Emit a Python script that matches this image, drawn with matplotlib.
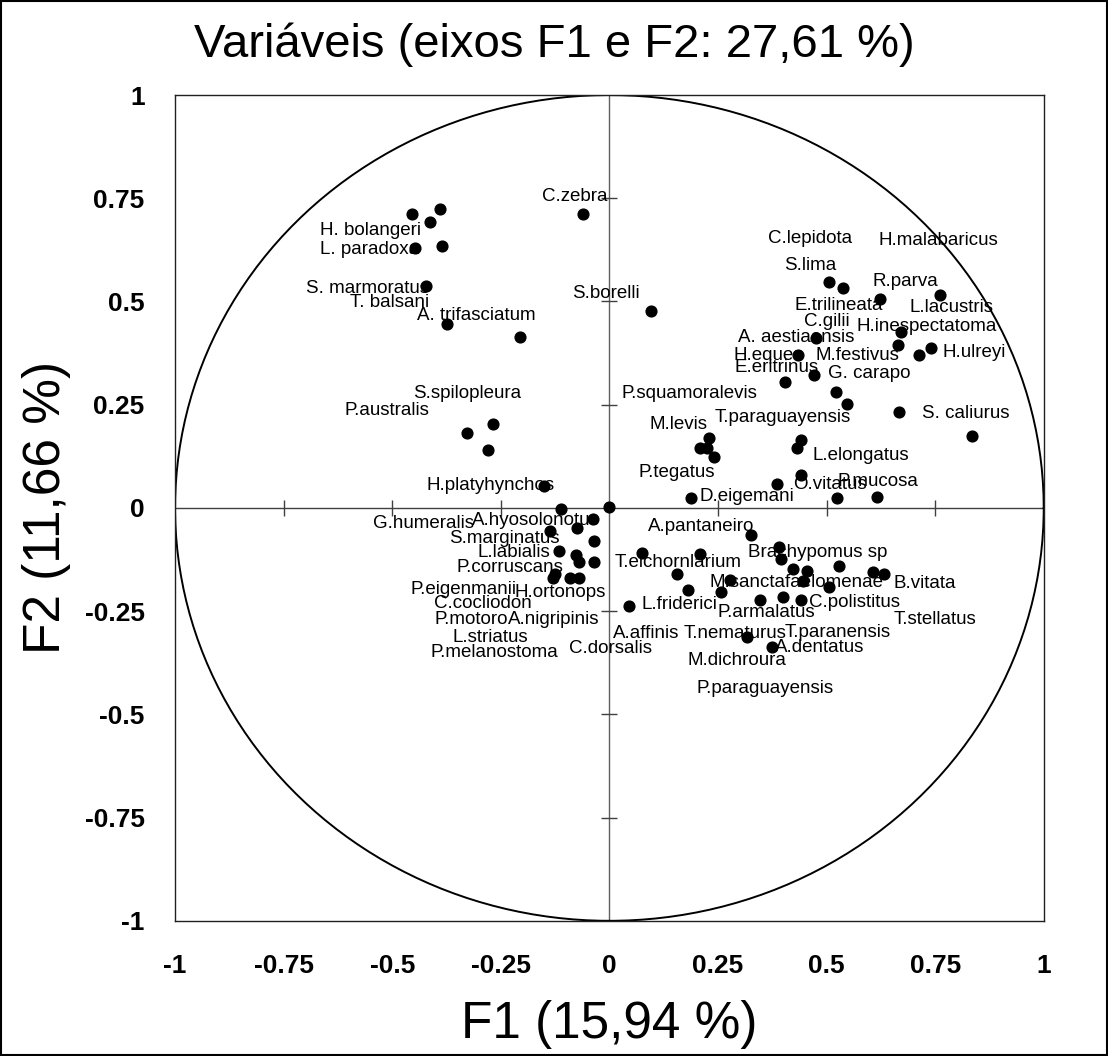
"""Circulo de correlacoes (F1 x F2) das especies."""

import matplotlib
matplotlib.use("Agg")
import matplotlib.pyplot as plt
import numpy as np

plt.rcParams["font.family"] = ["Liberation Sans", "DejaVu Sans"]

# coordenadas das variaveis (F1, F2)
f1 = [-0.454, -0.389, -0.414, -0.448, -0.385, -0.423, -0.375, -0.206, -0.060, 0.095,
      0.506, 0.538, 0.623, 0.761, 0.672, 0.664, 0.740, 0.712, 0.476, 0.435,
      0.472, 0.404, 0.521, 0.546, 0.667, 0.834, -0.328, -0.267, -0.280, -0.151,
      -0.112, -0.137, -0.074, -0.117, -0.077, 0.229, 0.208, 0.224, 0.241, 0.440,
      0.432, 0.440, 0.387, 0.189, 0.525, -0.002, -0.037, -0.035, 0.326, 0.390,
      0.074, 0.208, 0.616, -0.070, -0.036, -0.130, -0.126, -0.091, -0.070, 0.046,
      0.395, 0.156, 0.180, 0.277, 0.257, 0.423, 0.456, 0.445, 0.505, 0.529,
      0.607, 0.632, 0.346, 0.399, 0.440, 0.317, 0.375]
f2 = [0.713, 0.725, 0.692, 0.630, 0.635, 0.538, 0.446, 0.413, 0.712, 0.477,
      0.546, 0.532, 0.507, 0.516, 0.425, 0.395, 0.388, 0.370, 0.412, 0.370,
      0.323, 0.306, 0.280, 0.251, 0.233, 0.174, 0.182, 0.204, 0.140, 0.054,
      -0.002, -0.057, -0.049, -0.104, -0.114, 0.169, 0.144, 0.144, 0.123, 0.165,
      0.144, 0.080, 0.058, 0.025, 0.025, 0.003, -0.027, -0.079, -0.065, -0.094,
      -0.108, -0.111, 0.027, -0.131, -0.130, -0.170, -0.160, -0.169, -0.169, -0.237,
      -0.123, -0.161, -0.199, -0.174, -0.204, -0.148, -0.152, -0.177, -0.192, -0.140,
      -0.156, -0.160, -0.224, -0.216, -0.224, -0.313, -0.336]

# rotulos exibidos
names = ["H. bolangeri", "L. paradoxa", "S. marmoratus", "T. balsani", "A. trifasciatum",
         "C.zebra", "S.borelli", "C.lepidota", "H.malabaricus", "S.lima", "R.parva",
         "E.trilineata", "L.lacustris", "C.gilii", "H.inespectatoma", "A. aestiaensis",
         "H.eques", "M.festivus", "H.ulreyi", "E.eritrinus", "G. carapo", "S. caliurus",
         "P.squamoralevis", "T.paraguayensis", "M.levis", "L.elongatus", "P.tegatus",
         "O.vitatus", "D.eigemani", "P.mucosa", "A.pantaneiro", "Brachypomus sp",
         "T.eichornlarium", "M.sanctafaelomenae", "B.vitata", "L.friderici",
         "C.polistitus", "P.armalatus", "T.stellatus", "A.affinis", "T.nematurus",
         "T.paranensis", "A.dentatus", "M.dichroura", "P.paraguayensis",
         "S.spilopleura", "P.australis", "H.platyhynchos", "G.humeralis",
         "A.hyosolonotus", "S.marginatus", "L.labialis", "P.corruscans", "P.eigenmanii",
         "H.ortonops", "C.cocliodon", "P.motoro", "A.nigripinis", "L.striatus",
         "P.melanostoma", "C.dorsalis"]

# posicao dos rotulos (canto esquerdo, linha de base)
label_pos = [(-0.666, 0.661), (-0.666, 0.615), (-0.698, 0.521), (-0.597, 0.487), (-0.444, 0.454),
             (-0.155, 0.743), (-0.086, 0.509), (0.365, 0.642), (0.619, 0.637), (0.402, 0.576),
             (0.606, 0.538), (0.427, 0.479), (0.692, 0.475), (0.448, 0.441), (0.569, 0.429),
             (0.296, 0.403), (0.285, 0.358), (0.475, 0.358), (0.768, 0.365), (0.288, 0.330),
             (0.504, 0.314), (0.719, 0.219), (0.029, 0.266), (0.243, 0.208), (0.093, 0.191),
             (0.468, 0.116), (0.066, 0.074), (0.423, 0.045), (0.208, 0.018), (0.526, 0.053),
             (0.089, -0.057), (0.319, -0.119), (0.013, -0.142), (0.231, -0.192), (0.653, -0.194),
             (0.074, -0.245), (0.460, -0.241), (0.249, -0.263), (0.655, -0.282), (0.009, -0.316),
             (0.171, -0.316), (0.404, -0.312), (0.381, -0.348), (0.179, -0.380), (0.201, -0.449),
             (-0.452, 0.266), (-0.609, 0.225), (-0.422, 0.044), (-0.544, -0.049),
             (-0.317, -0.041), (-0.369, -0.085), (-0.303, -0.119), (-0.353, -0.154), (-0.458, -0.208),
             (-0.219, -0.215), (-0.403, -0.243), (-0.403, -0.281), (-0.233, -0.281), (-0.361, -0.324),
             (-0.413, -0.360), (-0.093, -0.352)]

ticks = [-1, -0.75, -0.5, -0.25, 0, 0.25, 0.5, 0.75, 1]
tick_labels = ["-1", "-0.75", "-0.5", "-0.25", "0", "0.25", "0.5", "0.75", "1"]
inner_ticks = [-0.75, -0.5, -0.25, 0.25, 0.5, 0.75]

fig = plt.figure(figsize=(11.08, 10.56), dpi=100)
ax = fig.add_axes([0.158, 0.128, 0.784, 0.782])
ax.set_xlim(-1, 1)
ax.set_ylim(-1, 1)

# circulo unitario
t = np.linspace(0, 2 * np.pi, 400)
ax.plot(np.cos(t), np.sin(t), color="black", lw=1.4, zorder=2)

# eixos centrais com marcas
ax.axhline(0, color="#404040", lw=1, zorder=1)
ax.axvline(0, color="#606060", lw=1, zorder=1)
ax.plot(inner_ticks, np.zeros(len(inner_ticks)), ls="none", marker="|",
        ms=12, mew=1, color="#404040", zorder=1)
ax.plot(np.zeros(len(inner_ticks)), inner_ticks, ls="none", marker="_",
        ms=12, mew=1, color="#404040", zorder=1)

ax.scatter(f1, f2, s=60, color="black", zorder=3)

for name, (lx, ly) in zip(names, label_pos):
    ax.text(lx, ly, name, fontsize=13.5, ha="left", va="baseline", zorder=4)

ax.set_xticks(ticks)
ax.set_xticklabels(tick_labels)
ax.set_yticks(ticks)
ax.set_yticklabels(tick_labels)
ax.tick_params(length=0, labelsize=19, pad=22)
ax.tick_params(axis="x", pad=24)
for lab in ax.get_xticklabels() + ax.get_yticklabels():
    lab.set_fontweight("bold")
for sp in ax.spines.values():
    sp.set_linewidth(1)
    sp.set_color("#202020")

fig.text(0.5, 0.958, "Variáveis (eixos F1 e F2: 27,61 %)", fontsize=34,
         ha="center", va="center")
ax.set_xlabel("F1 (15,94 %)", fontsize=37, labelpad=16)
ax.set_ylabel("F2 (11,66 %)", fontsize=37, labelpad=10)

# moldura da figura
fig.patches.append(plt.Rectangle((0.001, 0.001), 0.998, 0.998, transform=fig.transFigure,
                                 fill=False, edgecolor="black", lw=1.5))

fig.savefig("out.png", dpi=100)
